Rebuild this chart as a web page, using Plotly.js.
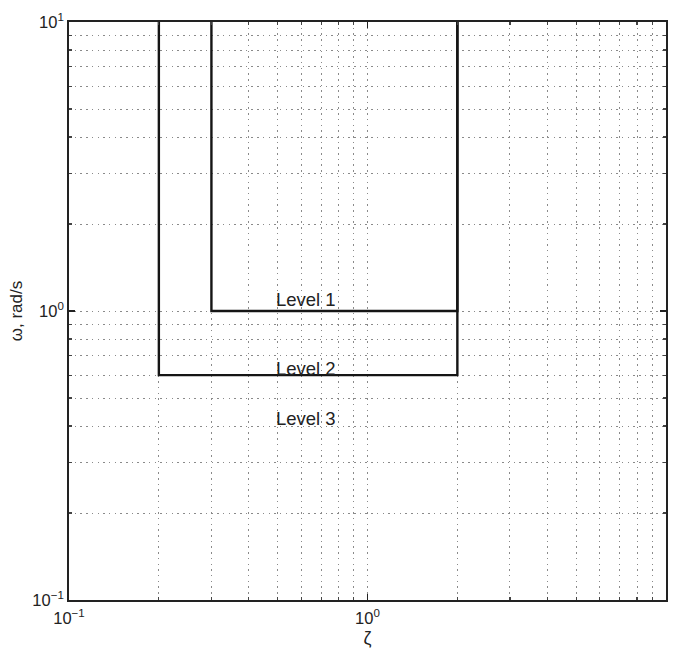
<!DOCTYPE html>
<html>
<head>
<meta charset="utf-8">
<script src="https://cdn.plot.ly/plotly-3.0.1.min.js"></script>
<style>html,body{margin:0;padding:0;background:#fff;}#chart{width:677px;height:649px;}</style>
</head>
<body>
<div id="chart"></div>
<script>
// Boundary data (zeta, omega rad/s)
const level1Zeta = [0.3, 0.3, 2, 2];
const level1Omega = [10, 1, 1, 10];
const level2Zeta = [0.2, 0.2, 2, 2];
const level2Omega = [10, 0.6, 0.6, 10];
const levelLabels = ['Level 1', 'Level 2', 'Level 3'];
const labelZeta = [0.62, 0.62, 0.62];
const labelOmega = [1.1, 0.635, 0.426];
const majorTicks = [0.1, 1, 10];
const majorTickText = ['10<sup>\u22121</sup>', '10<sup>0</sup>', '10<sup>1</sup>'];
const minorTicks = [0.2,0.3,0.4,0.5,0.6,0.7,0.8,0.9,2,3,4,5,6,7,8,9];

const FONT = 'Liberation Sans, Arial, Helvetica, sans-serif';
const lineStyle = {color: '#151515', width: 2.4};
const traces = [
  {x: level1Zeta, y: level1Omega, mode: 'lines', line: lineStyle, showlegend: false, hoverinfo: 'skip'},
  {x: level2Zeta, y: level2Omega, mode: 'lines', line: lineStyle, showlegend: false, hoverinfo: 'skip'}
];

function axis(extra) {
  return Object.assign({
    type: 'log',
    range: [-1, 1],
    tickmode: 'array',
    tickvals: majorTicks,
    ticktext: majorTickText,
    ticks: 'inside',
    ticklen: 6,
    tickwidth: 1.2,
    tickcolor: '#222',
    showline: true,
    linecolor: '#222',
    linewidth: 1.8,
    mirror: 'allticks',
    showgrid: true,
    gridcolor: '#8a8a8a',
    griddash: '1.5px,4.2px',
    gridwidth: 1,
    zeroline: false,
    tickfont: {family: FONT, size: 16.5, color: '#222'},
    minor: {
      tickmode: 'array',
      tickvals: minorTicks,
      ticks: 'inside',
      ticklen: 3,
      tickcolor: '#444',
      showgrid: true,
      gridcolor: '#8a8a8a',
      griddash: '1.5px,4.2px',
      gridwidth: 1
    }
  }, extra);
}

const layout = {
  width: 677,
  height: 649,
  margin: {l: 69, r: 11, t: 22, b: 49},
  paper_bgcolor: '#fff',
  plot_bgcolor: '#fff',
  font: {family: FONT, size: 16, color: '#222'},
  xaxis: axis({title: {text: '\u03b6', font: {family: FONT, size: 18}, standoff: 6}, ticklabelstandoff: 2}),
  yaxis: axis({title: {text: '\u03c9, rad/s', font: {family: FONT, size: 17}, standoff: 5}}),
  annotations: levelLabels.map((t, i) => ({
    x: Math.log10(labelZeta[i]), y: Math.log10(labelOmega[i]),
    xref: 'x', yref: 'y', text: t, showarrow: false,
    font: {family: FONT, size: 18.5, color: '#222'}
  }))
};

Plotly.newPlot('chart', traces, layout, {displayModeBar: false, staticPlot: true});
</script>
</body>
</html>
